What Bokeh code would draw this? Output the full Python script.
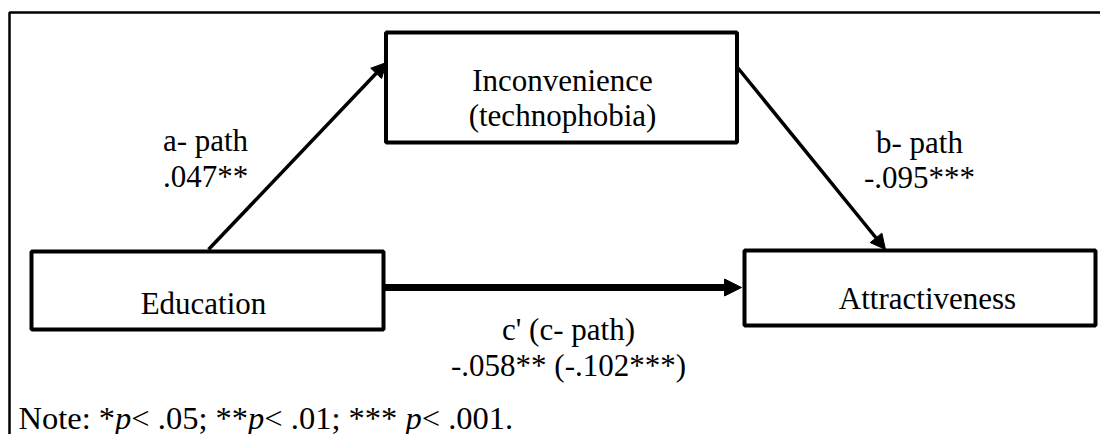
from bokeh.plotting import figure
from bokeh.models import Range1d, Arrow, NormalHead
from bokeh.core.properties import value
from bokeh.embed import file_html
from bokeh.resources import INLINE

# ---- content ----
node_names = ["Education", "Inconvenience", "Attractiveness"]
node_sublabels = ["", "(technophobia)", ""]
path_names = ["a- path", "b- path", "c' (c- path)"]
path_coefs = [".047**", "-.095***", "-.058** (-.102***)"]
note_parts = ["Note: *", "p", "< .05; **", "p", "< .01; *** ", "p", "< .001."]
note_italic = [False, True, False, True, False, True, False]

FONT = "'Liberation Serif', 'Times New Roman', serif"

# ---- layout (page pixel coordinates) ----
box_left = [31, 385.5, 744]
box_right = [383, 736.5, 1095]
box_top = [251, 32, 250]
box_bottom = [329, 142, 325]

name_x = [203, 562, 927]
name_y = [303, 80, 298]
sub_y = [None, 115, None]

path_x = [205, 919, 568]
path_name_y = [140, 142, 329]
path_coef_y = [176, 177, 365]

arrows = [
    dict(xs=208, ys=249, xe=386, ye=62, w=3.5, size=15),
    dict(xs=737, ys=67, xe=885, ye=249, w=3.5, size=15),
    dict(xs=384, ys=287, xe=741, ye=287, w=7, size=17),
]

p = figure(width=1100, height=434,
           x_range=Range1d(0, 1100), y_range=Range1d(434, 0),
           output_backend="svg", toolbar_location=None,
           x_axis_location=None, y_axis_location=None,
           min_border=0, outline_line_color=None,
           background_fill_color="white", border_fill_color="white")
p.grid.visible = False

# outer frame (left + top)
p.line([9, 9, 1110], [450, 12, 12], line_color="black", line_width=2.5)

# boxes
p.quad(left=box_left, right=box_right, top=box_top, bottom=box_bottom,
       fill_color="white", line_color="black", line_width=4)

# arrows
for a in arrows:
    p.add_layout(Arrow(end=NormalHead(size=a["size"], fill_color="black",
                                      line_color="black", line_width=1),
                       x_start=a["xs"], y_start=a["ys"], x_end=a["xe"], y_end=a["ye"],
                       line_color="black", line_width=a["w"]))

common = dict(text_font=value(FONT), text_font_size="31px", text_color="black",
              text_align="center", text_baseline="alphabetic")

# node labels
p.text(x=name_x, y=name_y, text=node_names, **common)
sx = [x for x, s in zip(name_x, node_sublabels) if s]
sy = [y for y, s in zip(sub_y, node_sublabels) if s]
st = [s for s in node_sublabels if s]
p.text(x=sx, y=sy, text=st, **common)

# path labels
p.text(x=path_x, y=path_name_y, text=path_names, **common)
p.text(x=path_x, y=path_coef_y, text=path_coefs, **common)

# note with italic p (positions from Times metrics)
W = {'N': 722, 'o': 500, 't': 278, 'e': 444, ':': 278, ' ': 250, '*': 500,
     '<': 564, '.': 250, '0': 500, '1': 500, '5': 500, ';': 278, 'p': 500}
note_size = 32.5
x = 18.0
reg_x, reg_t, it_x, it_t = [], [], [], []
for part, ital in zip(note_parts, note_italic):
    if ital:
        it_x.append(x); it_t.append(part)
    else:
        reg_x.append(x); reg_t.append(part)
    x += sum(W.get(c, 500) for c in part) / 1000 * note_size
note_common = dict(text_font=value(FONT), text_font_size=f"{note_size}px",
                   text_color="black", text_align="left", text_baseline="alphabetic")
p.text(x=reg_x, y=[417] * len(reg_x), text=reg_t, **note_common)
p.text(x=it_x, y=[417] * len(it_x), text=it_t, text_font_style="italic", **note_common)

open("out.html", "w").write(file_html(p, INLINE))
